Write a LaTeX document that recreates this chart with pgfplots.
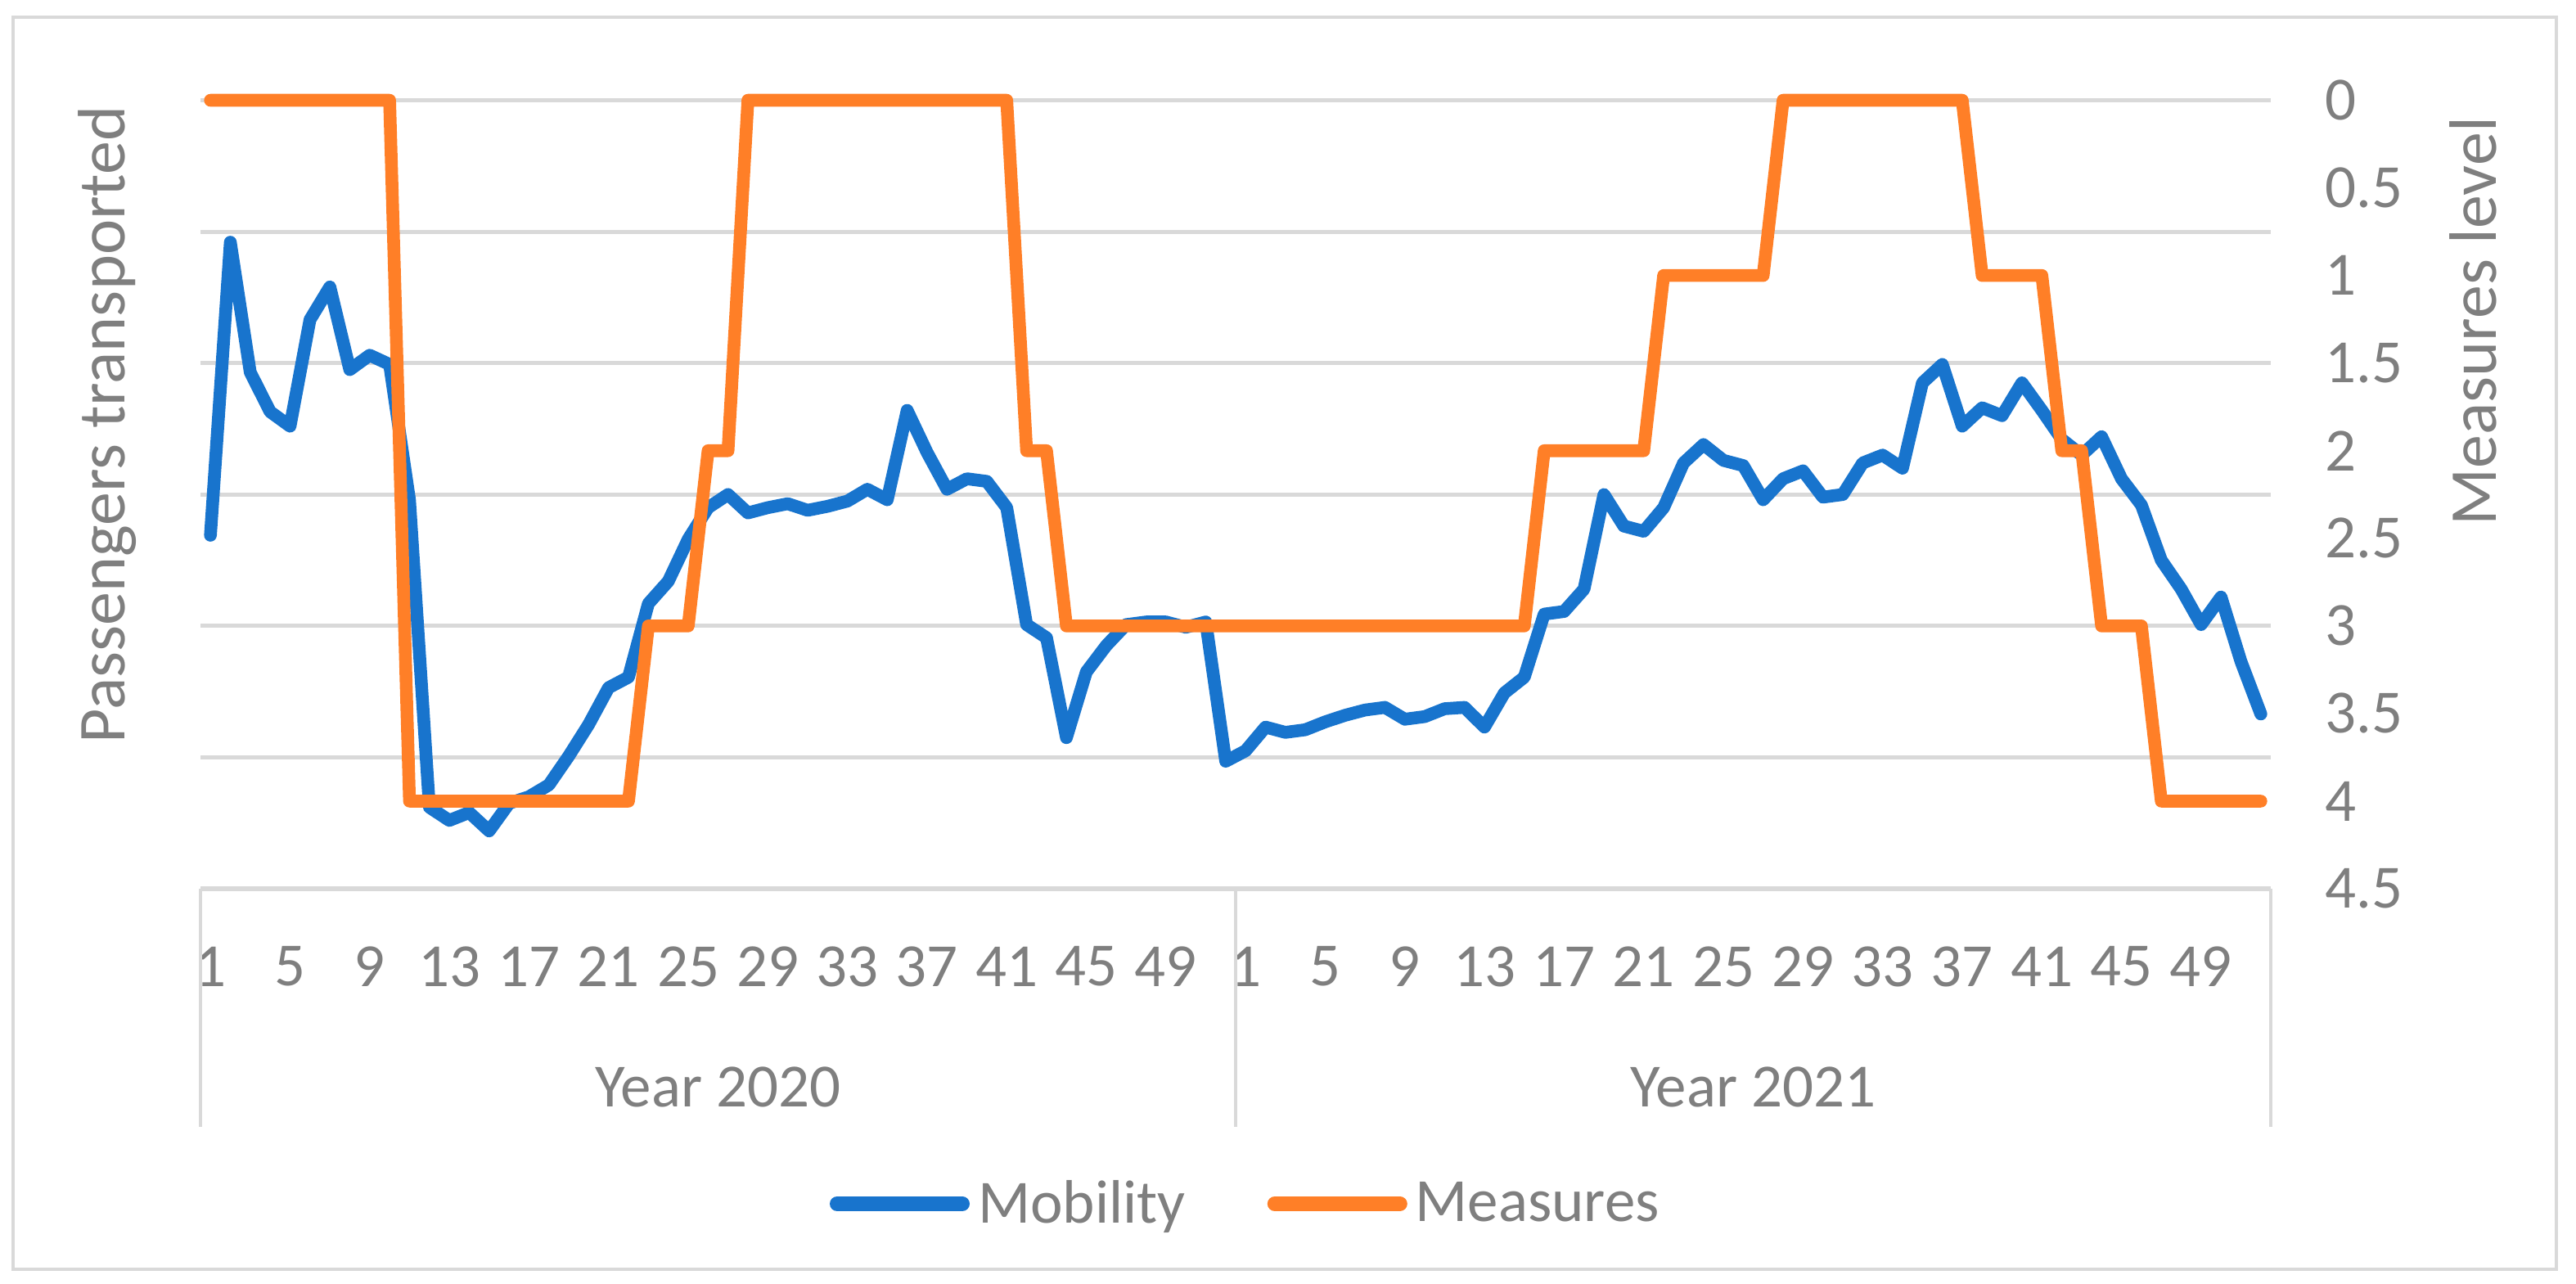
\documentclass[border=0pt]{standalone}
\usepackage{fontspec}
\setmainfont{Carlito}
\usepackage{pgfplots}
\pgfplotsset{compat=1.18}
\usepackage{pgfplotstable}
\definecolor{mobblue}{HTML}{1874CD}
\definecolor{measorange}{HTML}{FF7F27}
\definecolor{gridgray}{HTML}{D9D9D9}
\definecolor{txtgray}{HTML}{7F7F7F}
\newcommand\lblfont{\fontsize{18.75}{22}\selectfont}
\newcommand\ttlfont{\fontsize{20.5}{24}\selectfont}

\pgfplotstableread{
i mob meas
1 2.69 0
2 4.92 0
3 3.93 0
4 3.63 0
5 3.52 0
6 4.33 0
7 4.58 0
8 3.95 0
9 4.06 0
10 3.99 0
11 2.96 4
12 0.62 4
13 0.52 4
14 0.58 4
15 0.44 4
16 0.65 4
17 0.70 4
18 0.79 4
19 1.01 4
20 1.25 4
21 1.53 4
22 1.61 4
23 2.17 3
24 2.34 3
25 2.66 3
26 2.90 2
27 3.00 2
28 2.86 0
29 2.90 0
30 2.93 0
31 2.88 0
32 2.91 0
33 2.95 0
34 3.04 0
35 2.96 0
36 3.64 0
37 3.32 0
38 3.04 0
39 3.12 0
40 3.10 0
41 2.90 0
42 2.01 2
43 1.91 2
44 1.15 3
45 1.65 3
46 1.85 3
47 2.01 3
48 2.03 3
49 2.03 3
50 1.99 3
51 2.03 3
52 0.97 3
53 1.05 3
54 1.23 3
55 1.19 3
56 1.21 3
57 1.27 3
58 1.32 3
59 1.36 3
60 1.38 3
61 1.29 3
62 1.31 3
63 1.37 3
64 1.38 3
65 1.23 3
66 1.49 3
67 1.61 3
68 2.09 2
69 2.11 2
70 2.28 2
71 3.00 2
72 2.76 2
73 2.72 2
74 2.90 1
75 3.24 1
76 3.38 1
77 3.26 1
78 3.22 1
79 2.96 1
80 3.12 0
81 3.18 0
82 2.98 0
83 3.00 0
84 3.24 0
85 3.30 0
86 3.20 0
87 3.85 0
88 3.99 0
89 3.52 0
90 3.66 1
91 3.60 1
92 3.85 1
93 3.64 1
94 3.42 2
95 3.30 2
96 3.44 3
97 3.12 3
98 2.92 3
99 2.50 4
100 2.28 4
101 2.01 4
102 2.22 4
103 1.73 4
104 1.33 4
}\data

\begin{document}
\begin{tikzpicture}
\path (0,0) rectangle (787pt,392pt);
\draw[gridgray, line width=1.2pt] (4pt,4.25pt) rectangle (781pt,386.75pt);
\begin{axis}[
  at={(61.25pt,120.5pt)}, anchor=south west,
  scale only axis, width=632.5pt, height=240.875pt,
  xmin=0.5, xmax=104.5, ymin=0, ymax=6,
  axis x line*=bottom, axis y line*=left,
  x axis line style={gridgray, line width=1.6pt},
  y axis line style={draw=none},
  ytick={1,2,3,4,5,6}, yticklabels={},
  ymajorgrids, grid style={gridgray, line width=1.3pt},
  major tick length=0pt,
  xtick={1,5,...,101},
  xticklabels={1,5,9,13,17,21,25,29,33,37,41,45,49,1,5,9,13,17,21,25,29,33,37,41,45,49},
  xticklabel style={font=\lblfont, text=txtgray, anchor=center, yshift=-23.75pt},
  clip=false,
  legend cell align=left,
  legend columns=-1,
  legend style={at={(0.30395,-0.3996)}, anchor=west, draw=none, fill=none,
    inner sep=0pt, outer sep=0pt, font=\lblfont,
    nodes={inner sep=0pt, text=txtgray},
    /tikz/every odd column/.append style={column sep=2.5pt},
    /tikz/every even column/.append style={column sep=25pt}},
  legend image code/.code={\draw[#1, line width=4.5pt, line cap=round] (2.25pt,0pt) -- (40.5pt,0pt);},
]
\addplot[mobblue, line width=3.9pt, line join=round, line cap=round] table[x=i,y=mob]{\data};
\addlegendentry{Mobility}
\addlegendimage{measorange}
\addlegendentry{Measures}
\draw[gridgray, line width=0.8pt] (axis cs:0.5,0) -- ++(0pt,-72.75pt);
\draw[gridgray, line width=0.8pt] (axis cs:52.5,0) -- ++(0pt,-72.75pt);
\draw[gridgray, line width=0.8pt] (axis cs:104.5,0) -- ++(0pt,-72.75pt);
\node[font=\lblfont, text=txtgray] at ([yshift=-60.5pt]axis cs:26.5,0) {Year 2020};
\node[font=\lblfont, text=txtgray] at ([yshift=-60.5pt]axis cs:78.5,0) {Year 2021};
\end{axis}
\begin{axis}[
  at={(61.25pt,120.5pt)}, anchor=south west,
  scale only axis, width=632.5pt, height=240.875pt,
  xmin=0.5, xmax=104.5, ymin=0, ymax=4.5, y dir=reverse,
  axis x line=none, axis y line*=right,
  y axis line style={draw=none},
  ytick={0,0.5,1,1.5,2,2.5,3,3.5,4,4.5},
  major tick length=0pt,
  yticklabel style={font=\lblfont, text=txtgray, anchor=west, inner sep=0pt, xshift=16.5pt,
    /pgf/number format/assume math mode=true, /pgf/number format/fixed},
  clip=false,
]
\addplot[measorange, line width=3.9pt, line join=round, line cap=round] table[x=i,y=meas]{\data};
\end{axis}
\node[rotate=90, anchor=base, font=\ttlfont, text=txtgray] at (38.25pt,262.25pt) {Passengers transported};
\node[rotate=90, anchor=base, font=\ttlfont, text=txtgray] at (762.5pt,293.75pt) {Measures level};
\end{tikzpicture}
\end{document}
